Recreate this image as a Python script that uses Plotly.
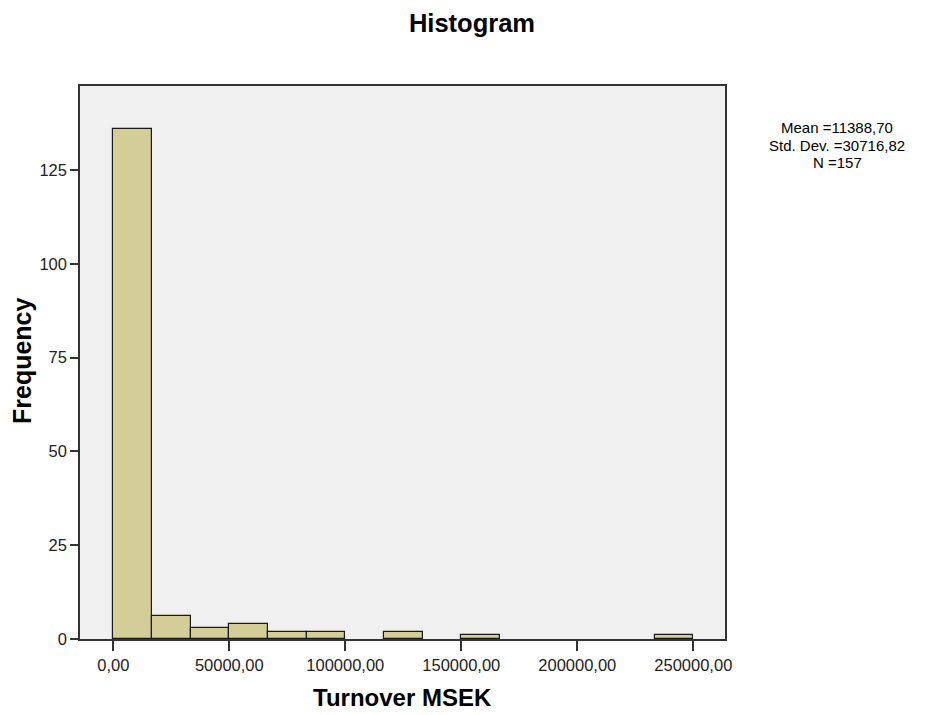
import plotly.graph_objects as go

# Histogram data (bins start at 0, each 50000/3 wide)
bin_start = 0.0
bin_width = 50000.0 / 3.0
counts = [136, 6, 3, 4, 2, 2, 0, 2, 0, 1, 0, 0, 0, 0, 1]
x_tick_vals = [0, 50000, 100000, 150000, 200000, 250000]
x_tick_text = ["0,00", "50000,00", "100000,00", "150000,00", "200000,00", "250000,00"]
y_tick_vals = [0, 25, 50, 75, 100, 125]
stats_lines = ["Mean =11388,70", "Std. Dev. =30716,82", "N =157"]

xs = [bin_start + bin_width * (i + 0.5) for i, c in enumerate(counts) if c > 0]
ys = [c for c in counts if c > 0]

fig = go.Figure()
fig.add_trace(go.Bar(
    x=xs, y=ys, width=[bin_width] * len(xs),
    marker=dict(color="#D3CE97", line=dict(color="#1a1a1a", width=1.2)),
    showlegend=False, hoverinfo="x+y",
))

FONT = "Liberation Sans, Arial, sans-serif"
L, R, T, B = 80, 725, 86, 639
fig.update_layout(
    width=925, height=715,
    margin=dict(l=L, r=925 - R, t=T, b=715 - B),
    paper_bgcolor="white", plot_bgcolor="#F0F0F0",
    font=dict(family=FONT, color="#000000", size=16),
    title=dict(text="<b>Histogram</b>", x=472 / 925, xanchor="center",
               y=1 - 23 / 715, yanchor="middle", yref="container",
               font=dict(size=25.5, family=FONT, color="#000000")),
    bargap=0,
)
fig.update_xaxes(
    range=[-14350, 263660], tickvals=x_tick_vals, ticktext=x_tick_text,
    ticks="outside", ticklen=10, tickwidth=1.5, tickcolor="#333333",
    showline=True, linecolor="#333333", linewidth=1.5, mirror=True,
    showgrid=False, zeroline=False,
    tickfont=dict(size=16.5, family=FONT, color="#222222"),
)
fig.update_yaxes(
    range=[0, 147.4], tickvals=y_tick_vals,
    ticks="outside", ticklen=8, tickwidth=1.5, tickcolor="#333333",
    showline=True, linecolor="#333333", linewidth=1.5, mirror=True,
    showgrid=False, zeroline=False,
    tickfont=dict(size=16.5, family=FONT, color="#222222"),
)

def px_x(px):
    return (px - L) / (R - L)

def px_y(py):
    return 1 - (py - T) / (B - T)

# axis titles
fig.add_annotation(text="<b>Turnover MSEK</b>", xref="paper", yref="paper",
                   x=px_x(402.5), y=px_y(697), xanchor="center", yanchor="middle",
                   showarrow=False, font=dict(size=24, family=FONT, color="#000000"))
fig.add_annotation(text="<b>Frequency</b>", xref="paper", yref="paper",
                   x=px_x(22), y=px_y(361), xanchor="center", yanchor="middle",
                   textangle=-90, showarrow=False,
                   font=dict(size=25, family=FONT, color="#000000"))

# stats box text, one line per annotation for tight spacing
for i, line in enumerate(stats_lines):
    fig.add_annotation(
        text=line, xref="paper", yref="paper",
        x=px_x(837), y=px_y(128 + 17 * i), xanchor="center", yanchor="middle",
        showarrow=False, borderpad=0,
        font=dict(size=15, family=FONT, color="#000000"),
    )
fig.write_html("out.html")
